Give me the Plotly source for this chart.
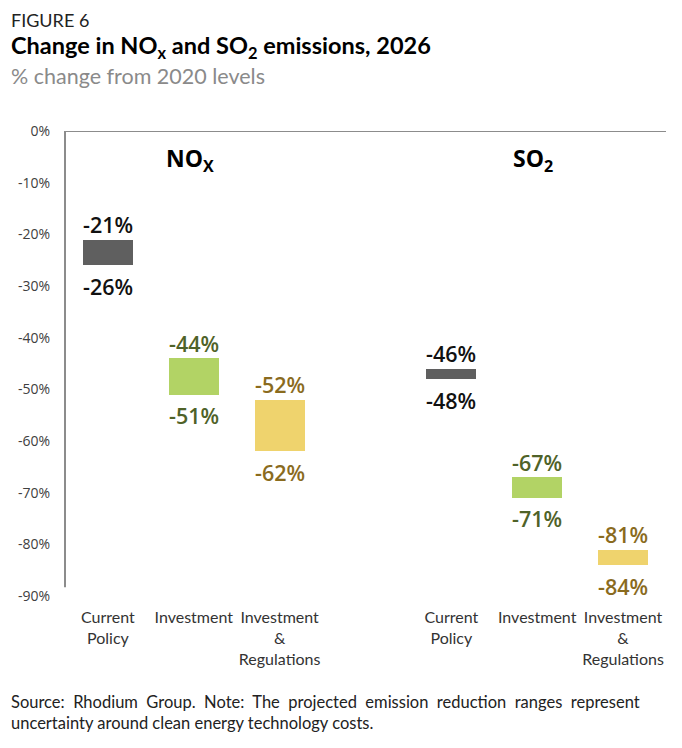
import plotly.graph_objects as go

# ---- data ----
categories = ["Current<br>Policy", "Investment", "Investment<br>&<br>Regulations"]
groups = ["NO<sub>X</sub>", "SO<sub>2</sub>"]
nox_upper = [-21, -44, -52]
nox_lower = [-26, -51, -62]
so2_upper = [-46, -67, -81]
so2_lower = [-48, -71, -84]
y_ticks = [0, -10, -20, -30, -40, -50, -60, -70, -80, -90]

bar_colors = ["#5f5f5f", "#b2d365", "#efd36d"]
label_colors = ["#111111", "#4f6228", "#8a6b1e"]

fig = go.Figure()

tickvals, ticktext = [], []
annotations = []
for g, (upper, lower) in enumerate([(nox_upper, nox_lower), (so2_upper, so2_lower)]):
    xs = [i + 4 * g for i in range(len(categories))]
    tickvals += xs
    ticktext += categories
    fig.add_trace(go.Bar(
        x=xs,
        base=upper,
        y=[lo - up for up, lo in zip(upper, lower)],
        marker=dict(color=bar_colors, line=dict(width=0)),
        width=0.58,
        hoverinfo="skip",
        showlegend=False,
    ))
    for x, up, lo, c in zip(xs, upper, lower, label_colors):
        annotations.append(dict(x=x, y=up, text=f"{up}%", showarrow=False,
                                yanchor="middle", yshift=15,
                                font=dict(family="Open Sans", size=21.5, color=c, weight=600)))
        annotations.append(dict(x=x, y=lo, text=f"{lo}%", showarrow=False,
                                yanchor="middle", yshift=-21,
                                font=dict(family="Open Sans", size=21.5, color=c, weight=600)))
    annotations.append(dict(x=1 + 4 * g, y=-5.5, text=groups[g], showarrow=False,
                            xshift=-4, yanchor="middle",
                            font=dict(family="Open Sans", size=23, color="#000000", weight=700)))

fig.update_layout(
    width=682, height=748,
    margin=dict(l=65, r=16, t=131, b=152),
    paper_bgcolor="white", plot_bgcolor="white",
    bargap=0,
    xaxis=dict(range=[-0.5, 6.5], tickvals=tickvals, ticktext=ticktext,
               showgrid=False, zeroline=False, showline=False, ticks="",
               ticklabelstandoff=10,
               tickfont=dict(family="Lato", size=16, color="#333333")),
    yaxis=dict(range=[-90, 0], tickvals=y_ticks, ticktext=[f"{v}%" for v in y_ticks],
               showgrid=False, zeroline=False, showline=False, ticks="",
               ticklabelstandoff=14,
               tickfont=dict(family="Open Sans", size=14, color="#404040")),
    font=dict(family="Lato"),
)

# axes lines
fig.add_shape(type="line", xref="paper", yref="y", x0=0, x1=1, y0=0, y1=0,
              line=dict(color="#8c8c8c", width=2))
fig.add_shape(type="line", xref="paper", yref="y", x0=0, x1=0, y0=0, y1=-88.3,
              line=dict(color="#8c8c8c", width=2))

# header / footer positioned in paper coordinates (plot area: y from 131 to 596 px)
def py(pixel_y):
    return (596 - pixel_y) / (596 - 131)

def px(pixel_x):
    return (pixel_x - 65) / (666 - 65)

annotations += [
    dict(xref="paper", yref="paper", x=px(9), y=py(20), xanchor="left", yanchor="middle",
         text="FIGURE 6", showarrow=False,
         font=dict(family="Lato", size=18, color="#222222")),
    dict(xref="paper", yref="paper", x=px(9), y=py(47), xanchor="left", yanchor="middle",
         text="Change in NO<sub>x</sub> and SO<sub>2</sub> emissions, 2026", showarrow=False,
         font=dict(family="Lato", size=23.5, color="#000000", weight=700)),
    dict(xref="paper", yref="paper", x=px(9), y=py(76), xanchor="left", yanchor="middle",
         text="% change from 2020 levels", showarrow=False,
         font=dict(family="Lato", size=21.5, color="#8a8a8a")),
    dict(xref="paper", yref="paper", x=px(9), y=py(712), xanchor="left", yanchor="middle",
         align="left",
         text="Source:  Rhodium  Group.  Note:  The  projected  emission  reduction  ranges  represent<br>uncertainty around clean energy technology costs.",
         showarrow=False,
         font=dict(family="Lato", size=16.5, color="#222222")),
]

fig.update_layout(annotations=annotations)
fig.write_html("out.html")
